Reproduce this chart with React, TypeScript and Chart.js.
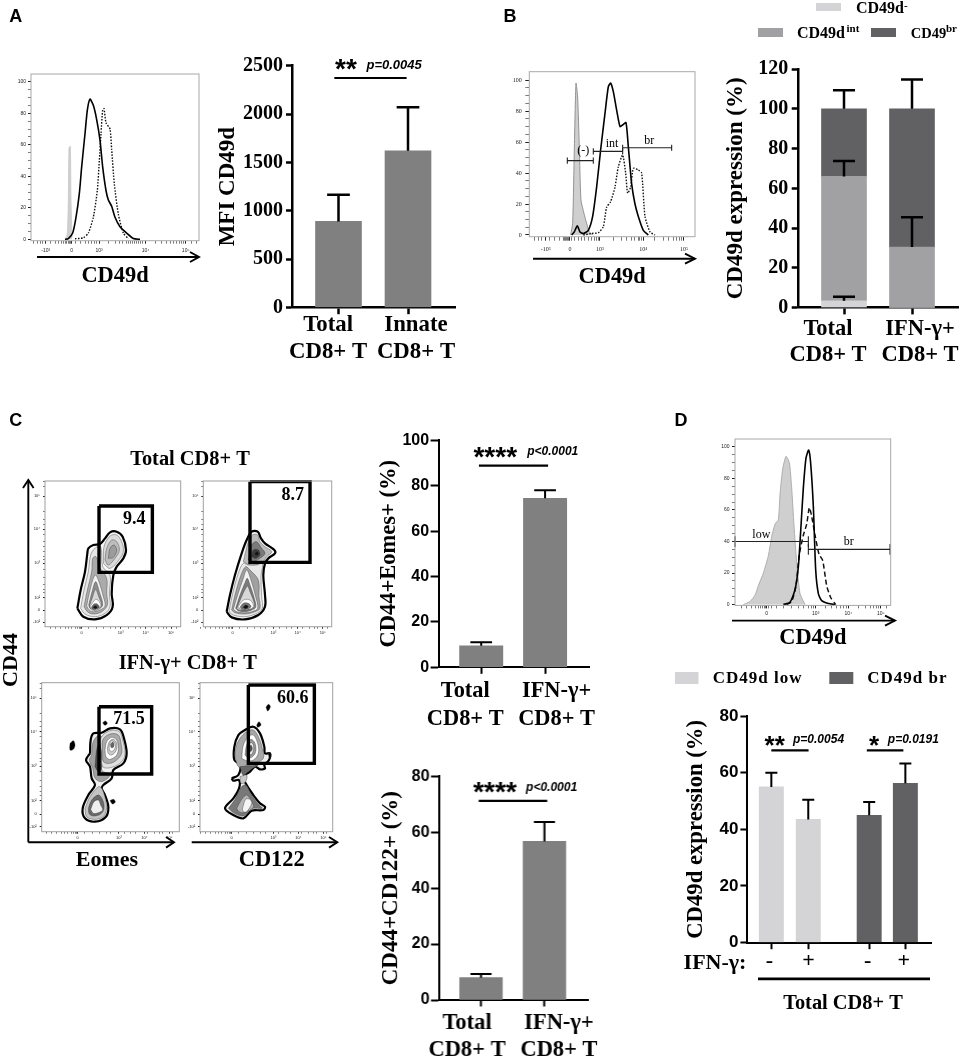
import React, { useEffect, useRef } from 'react';
import { Chart, registerables } from 'chart.js';

Chart.register(...registerables);

const SERIF = '"Liberation Serif"';
const SANS = '"Liberation Sans"';

// ---------- bar data ----------
const aCats = [['Total', 'CD8+ T'], ['Innate', 'CD8+ T']];
const aPos = [1, 2];
const aLabelPos = [0.85, 2.115];
const aVals = [890, 1620];
const aHigh = [1165, 2070];

const bCats = [['Total', 'CD8+ T'], ['IFN-γ+', 'CD8+ T']];
const bPos = [1, 2];
const bLabelPos = [0.765, 2.118];
const bNeg = [3.5, 0];
const bInt = [62.5, 30.5];
const bBr = [34, 69.5];
const bErrX = [1, 1, 1, 2, 2];
const bErrLow = [3.5, 66, 100, 30.5, 100];
const bErrHigh = [5.5, 73.7, 109.3, 45.5, 114.7];

const c1Cats = [['Total', 'CD8+ T'], ['IFN-γ+', 'CD8+ T']];
const c1Pos = [1, 2];
const c1LabelPos = [0.75, 2.18];
const c1Vals = [9.5, 74.5];
const c1High = [11, 78];

const c2Cats = [['Total', 'CD8+ T'], ['IFN-γ+', 'CD8+ T']];
const c2Pos = [1, 2];
const c2LabelPos = [0.78, 2.228];
const c2Vals = [8, 56.7];
const c2High = [9.3, 63.7];

const dCats = ['-', '+', '-', '+'];
const dPos = [1, 2, 3.65, 4.63];
const dLabelPos = [0.95, 2.01, 3.61, 4.59];
const dVals = [55, 43.5, 45, 56.3];
const dHigh = [60, 50.5, 49.7, 63.3];

// ---------- significance marks ----------
const sigA = [{ x1: 0.94, x2: 1.98, y: 2373, stars: '**', starX: 1.108, p: 'p=0.0045', pX: 1.8 }];
const sigC1 = [{ x1: 0.964, x2: 2.047, y: 88.9, stars: '****', starX: 1.22, p: 'p<0.0001', pX: 2.12 }];
const sigC2 = [{ x1: 0.964, x2: 2.044, y: 71.2, stars: '****', starX: 1.22, p: 'p<0.0001', pX: 2.113 }];
const sigD = [
  { x1: 1.0, x2: 2.008, y: 67.9, stars: '**', starX: 1.09, p: 'p=0.0054', pX: 2.278 },
  { x1: 3.586, x2: 4.576, y: 67.9, stars: '*', starX: 3.78, p: 'p=0.0191', pX: 4.846 },
];

// ---------- histograms (channel, % of max) ----------
const yMajor = [0, 20, 40, 60, 80, 100];
const yMinor = [5, 10, 15, 25, 30, 35, 45, 50, 55, 65, 70, 75, 85, 90, 95];

const haSolidX = [195, 205, 218, 228, 238, 245, 255, 262, 270, 280, 290, 300, 308, 318, 325, 335, 345, 360, 380, 400, 420];
const haSolidY = [0, 0.5, 4, 14, 29, 46, 67, 82, 89, 85, 76, 63, 46, 31, 25, 21, 14, 8, 4, 0.6, 0];
const haDotX = [225, 250, 265, 280, 292, 298, 303, 308, 312, 318, 330, 335, 343, 355, 370, 385];
const haDotY = [0.4, 1, 4, 14, 31, 50, 67, 82, 83, 74, 70, 57, 35, 16, 4, 0.4];
const haGrayX = [197, 202, 205, 207, 211, 213, 216];
const haGrayY = [0, 4, 25, 58, 59, 25, 1];
const haMajor = [137, 215, 297, 437, 557];
const haLabels = ['-10³', '0', '10³', '10⁴', '10⁵'];
const haMinor = [100, 112, 120, 127, 150, 165, 175, 185, 190, 195, 200, 205, 208, 211, 225, 240, 255, 265, 275, 283, 290, 325, 345, 358, 368, 378, 385, 392, 398, 404, 410, 416, 422, 428, 465, 485, 500, 510, 520, 530, 538, 545, 550, 575, 590];

const hbGrayX = [272, 278, 283, 288, 293, 298, 303, 312, 320, 328, 340];
const hbGrayY = [0, 7.5, 55, 98, 89, 57, 22.6, 14, 7.5, 2, 0];
const hbSolidX = [275, 283, 292, 300, 310, 325, 338, 350, 362, 375, 385, 392, 400, 410, 420, 428, 438, 445, 455, 465, 475, 490, 505];
const hbSolidY = [0, 2, 6, 2, 1, 3, 12, 31, 55, 78.5, 95.7, 98, 92.5, 80.6, 70, 71, 72.5, 57, 33, 20, 12, 3, 0];
const hbDotX = [310, 335, 355, 370, 380, 392, 405, 415, 428, 437, 443, 452, 460, 475, 485, 495, 510, 525];
const hbDotY = [0, 1, 1.5, 5.4, 18, 21.5, 31, 44, 51.6, 40, 27, 31, 43, 42, 40, 12, 2, 0];
const hbMajor = [197, 270, 360, 490, 612];
const hbLabels = ['-10³', '0', '10³', '10⁴', '10⁵'];
const hbMinor = [165, 175, 185, 210, 225, 240, 250, 255, 258, 261, 264, 267, 275, 285, 295, 305, 315, 325, 335, 345, 350, 355, 400, 425, 440, 455, 465, 475, 480, 485, 525, 550, 565, 580, 590, 600, 605];
const hbGateX1 = [262, 340, 428];
const hbGateX2 = [340, 428, 575];
const hbGateY = [48, 54, 56.3];

const hdGrayX = [220, 240, 255, 265, 280, 295, 305, 315, 325, 330, 338, 348, 358, 365, 372, 380, 390, 405];
const hdGrayY = [0, 2, 6, 12, 20, 31, 43, 51, 54, 70, 86, 94, 90, 74, 50, 27, 7, 0];
const hdSolidX = [340, 360, 375, 385, 393, 400, 408, 416, 422, 430, 437, 445, 455, 475, 495];
const hdSolidY = [0, 1.5, 9.5, 24, 50, 74, 93, 98, 89.5, 62, 22, 7, 2.5, 0.7, 0];
const hdDashX = [350, 365, 378, 388, 400, 410, 418, 425, 435, 447, 458, 470, 482, 497];
const hdDashY = [0, 2, 12, 32, 44, 51, 61.5, 56, 44, 32, 28, 12, 4.5, 0];
const hdMajor = [290, 437, 535, 632];
const hdLabels = ['0', '10³', '10⁴', '10⁵'];
const hdMinor = [215, 230, 245, 255, 265, 272, 278, 283, 287, 295, 305, 320, 340, 365, 385, 400, 415, 425, 431, 465, 485, 500, 510, 520, 528, 565, 585, 600, 610, 620, 626, 650];
const hdGateX1 = [195, 415];
const hdGateX2 = [415, 660];
const hdGateY = [40, 35];

// ---------- contour plots (channel, channel) ----------
type P = number[][];
const p1Shapes: P[] = [
  [[52,325],[62,270],[75,215],[82,160],[85,145],[100,135],[120,132],[135,115],[150,97],[170,95],[188,110],[198,150],[190,175],[170,200],[160,225],[155,280],[158,320],[140,345],[105,358],[70,350]],
  [[130,190],[132,140],[150,108],[170,105],[185,125],[190,155],[178,178],[150,205]],
  [[135,180],[140,145],[155,120],[170,125],[178,150],[165,175],[145,195]],
  [[145,175],[150,145],[162,135],[170,150],[160,172]],
  [[62,325],[72,270],[85,215],[92,165],[105,145],[122,140],[128,200],[150,225],[148,280],[150,320],[135,340],[105,350],[75,342]],
  [[72,320],[82,270],[95,215],[98,175],[108,170],[118,200],[140,235],[140,280],[142,315],[125,335],[100,342],[82,335]],
  [[80,318],[90,270],[105,225],[115,240],[130,290],[135,318],[120,330],[100,335],[88,330]],
  [[86,315],[96,275],[107,245],[118,275],[128,315],[115,328],[100,330],[90,325]],
  [[88,318],[98,290],[107,268],[116,290],[125,316],[113,325],[100,328],[92,325]],
  [[90,320],[100,305],[108,298],[118,305],[122,320],[110,330],[98,330]],
  [[94,322],[102,312],[112,312],[118,322],[108,328],[98,328]],
  [[99,322],[105,317],[112,321],[106,326]],
];
const p1Fills = ['#f6f6f6', '#dcdcdc', '#bdbdbd', '#9c9c9c', '#e8e8e8', '#ababab', '#f2f2f2', '#8c8c8c', '#d8d8d8', '#ffffff', '#666666', '#111111'];

const p2Shapes: P[] = [
  [[35,335],[45,285],[60,225],[80,160],[95,120],[110,95],[128,95],[138,115],[150,130],[178,150],[180,160],[160,175],[150,190],[145,225],[150,285],[150,320],[130,345],[90,358],[50,352]],
  [[85,185],[100,125],[112,105],[128,105],[135,125],[150,140],[170,155],[155,170],[140,190],[105,195]],
  [[100,180],[110,135],[125,125],[140,145],[150,160],[135,175],[115,185]],
  [[110,170],[115,150],[130,150],[135,165],[122,175]],
  [[120,158],[128,155],[130,163],[122,166]],
  [[42,335],[52,285],[70,220],[85,190],[100,195],[125,195],[142,190],[138,230],[140,290],[142,325],[125,340],[90,350],[55,345]],
  [[50,330],[60,285],[78,225],[92,200],[105,210],[130,240],[132,290],[135,325],[120,335],[90,342],[60,338]],
  [[55,328],[68,285],[85,235],[95,210],[108,240],[122,290],[128,325],[110,335],[85,338],[65,335]],
  [[62,325],[75,285],[90,248],[97,235],[105,255],[118,295],[122,322],[105,332],[85,335],[70,332]],
  [[65,325],[80,290],[92,265],[98,258],[105,275],[115,300],[118,320],[103,328],[85,330],[72,330]],
  [[68,322],[80,305],[92,298],[108,302],[115,320],[102,328],[85,330]],
  [[75,322],[85,310],[100,310],[108,320],[95,328],[82,328]],
  [[84,322],[92,315],[100,320],[92,326]],
];
const p2Fills = ['#f6f6f6', '#bbbbbb', '#7a7a7a', '#3c3c3c', '#111111', '#e8e8e8', '#a0a0a0', '#f2f2f2', '#7c7c7c', '#d8d8d8', '#ffffff', '#777777', '#111111'];

const p3Shapes: P[] = [
  [[90,130],[92,90],[100,70],[125,68],[150,55],[180,58],[192,85],[200,130],[190,160],[160,180],[155,205],[130,225],[125,235],[135,255],[145,290],[138,320],[105,335],[75,325],[68,295],[85,255],[105,225],[95,205],[90,170],[78,150]],
  [[95,135],[98,100],[110,80],[125,80],[125,130],[125,180],[150,195],[125,215],[105,205],[98,175],[88,150]],
  [[105,170],[112,110],[125,105],[125,175],[115,185]],
  [[125,130],[122,85],[150,62],[178,65],[188,90],[195,130],[185,155],[155,172],[128,170]],
  [[128,130],[128,90],[150,72],[175,75],[183,100],[185,130],[170,150],[150,160],[130,155]],
  [[135,120],[140,95],[155,82],[170,90],[175,115],[170,135],[150,148],[138,140]],
  [[142,115],[148,95],[160,88],[170,100],[168,122],[155,135],[145,130]],
  [[148,105],[155,92],[165,100],[165,115],[155,125],[148,118]],
  [[152,102],[158,96],[162,102],[160,112],[153,112]],
  [[75,295],[90,260],[115,230],[125,235],[135,262],[140,290],[132,318],[105,328],[80,320]],
  [[85,295],[95,270],[115,255],[128,270],[132,295],[122,312],[100,318],[88,312]],
  [[92,298],[102,275],[115,270],[122,285],[128,300],[115,308],[100,310]],
  [[30,100],[40,92],[45,105],[40,118],[30,120]],
  [[128,38],[136,33],[142,40],[135,46]],
  [[150,272],[160,268],[166,275],[158,282]],
];
const p3Fills = ['#f0f0f0', '#a0a0a0', '#4c4c4c', '#e0e0e0', '#aaaaaa', '#ffffff', '#cccccc', '#ffffff', '#666666', '#c4c4c4', '#6a6a6a', '#eeeeee', '#000000', '#000000', '#000000'];

const p4Shapes: P[] = [
  [[50,205],[70,195],[75,165],[58,150],[58,110],[70,75],[90,60],[115,50],[135,70],[148,110],[150,130],[165,130],[162,150],[148,165],[150,175],[135,178],[120,170],[105,185],[85,200],[95,225],[115,255],[135,280],[150,290],[145,300],[110,302],[85,325],[55,315],[30,295],[55,265],[72,235],[72,210],[55,212]],
  [[62,150],[62,115],[75,85],[95,65],[115,60],[130,80],[142,115],[145,145],[120,160],[85,170],[70,170]],
  [[80,145],[85,105],[100,80],[115,75],[128,100],[130,130],[115,150],[95,152]],
  [[90,135],[95,105],[108,88],[120,100],[122,125],[110,142],[98,142]],
  [[97,125],[100,105],[110,98],[116,110],[112,130],[102,135]],
  [[102,118],[107,105],[112,115],[107,125]],
  [[75,170],[125,165],[130,165],[105,180],[85,195]],
  [[75,200],[95,195],[92,215],[78,220]],
  [[40,295],[60,268],[78,232],[92,225],[110,255],[130,283],[142,295],[110,296],[85,318],[58,310]],
  [[65,295],[80,268],[95,255],[110,275],[115,292],[85,308],[72,305]],
  [[82,297],[92,268],[105,268],[110,280],[95,305],[85,305]],
  [[125,45],[132,35],[138,45],[128,52]],
  [[153,-8],[160,-17],[166,-10],[158,3]],
  [[160,128],[167,132],[163,145]],
];
const p4Fills = ['#f0f0f0', '#a8a8a8', '#ffffff', '#999999', '#eeeeee', '#555555', '#666666', '#c8c8c8', '#787878', '#b4b4b4', '#f5f5f5', '#000000', '#000000', '#000000'];

const p1Gate = [[117, 18], [277, 18], [277, 217], [117, 217], [117, 18]];
const p2Gate = [[105, -55], [285, -55], [285, 187], [105, 187], [105, -55]];
const p3Gate = [[117, -10], [275, -10], [275, 192], [117, 192], [117, -10]];
const p4Gate = [[100, -75], [298, -75], [298, 160], [100, 160], [100, -75]];

const contourYLabels = ['10⁵', '10⁴', '10³', '10²', '0', '-10²'];
const contourXLabels = ['0', '10³', '10⁴', '10⁵'];
const cMinorX = [-95, -80, -65, -50, -40, -30, -18, -13, -8, -3, 20, 45, 65, 85, 100, 140, 160, 175, 210, 230, 245, 255, 285];
const cMinorY = [-45, -30, 45, 70, 85, 115, 135, 150, 165, 180, 190, 220, 245, 265, 280, 290];

// ---------- plugins ----------
type Note = { t: string; x: number; y: number; size: number; family?: string; weight?: string; style?: string; align?: CanvasTextAlign; rotate?: number; spacing?: string; dy?: number };

function drawNote(chart: any, n: Note) {
  const c = chart.ctx;
  c.save();
  c.font = `${n.style || 'normal'} ${n.weight || 'bold'} ${n.size}px ${n.family || SERIF}`;
  c.textAlign = n.align || 'center';
  c.textBaseline = 'middle';
  c.fillStyle = '#000';
  if (n.spacing) (c as any).letterSpacing = n.spacing;
  c.translate(chart.scales.x.getPixelForValue(n.x), chart.scales.y.getPixelForValue(n.y) + (n.dy || 0));
  if (n.rotate) c.rotate(n.rotate);
  c.fillText(n.t, 0, 0);
  c.restore();
}

const notesPlugin = (notes: Note[]) => ({
  id: 'notes',
  afterDraw(chart: any) { notes.forEach((n) => drawNote(chart, n)); },
});

const errPlugin = (xs: number[], lows: number[], highs: number[], cap: number, width: number) => ({
  id: 'errs',
  afterDatasetsDraw(chart: any) {
    const { x, y } = chart.scales;
    const c = chart.ctx;
    c.save();
    c.strokeStyle = '#000';
    c.lineWidth = width;
    xs.forEach((v, i) => {
      const px = x.getPixelForValue(v);
      const lo = y.getPixelForValue(lows[i]);
      const hi = y.getPixelForValue(highs[i]);
      c.beginPath();
      c.moveTo(px, lo);
      c.lineTo(px, hi);
      c.moveTo(px - cap / 2, hi);
      c.lineTo(px + cap / 2, hi);
      c.stroke();
    });
    c.restore();
  },
});

const sigPlugin = (sigs: any[], starSize: number, starDy: number, pSize: number, pDy: number) => ({
  id: 'sig',
  afterDraw(chart: any) {
    const { x, y } = chart.scales;
    const c = chart.ctx;
    sigs.forEach((s) => {
      c.save();
      c.strokeStyle = '#000';
      c.lineWidth = 2.2;
      c.beginPath();
      c.moveTo(x.getPixelForValue(s.x1), y.getPixelForValue(s.y));
      c.lineTo(x.getPixelForValue(s.x2), y.getPixelForValue(s.y));
      c.stroke();
      c.restore();
      drawNote(chart, { t: s.stars, x: s.starX, y: s.y, size: starSize, family: SANS, dy: starDy });
      drawNote(chart, { t: s.p, x: s.pX, y: s.y, size: pSize, family: SANS, style: 'italic', dy: pDy });
    });
  },
});

const framePlugin = (color: string) => ({
  id: 'frame',
  afterDatasetsDraw(chart: any) {
    const a = chart.chartArea;
    const c = chart.ctx;
    c.save();
    c.strokeStyle = color;
    c.lineWidth = 1;
    c.strokeRect(a.left, a.top, a.right - a.left, a.bottom - a.top);
    c.restore();
  },
});

const swatchPlugin = (boxes: { x: number; y: number; w: number; h: number; color: string }[]) => ({
  id: 'swatches',
  afterDraw(chart: any) {
    const { x, y } = chart.scales;
    const c = chart.ctx;
    boxes.forEach((b) => {
      c.fillStyle = b.color;
      c.fillRect(x.getPixelForValue(b.x), y.getPixelForValue(b.y), b.w, b.h);
    });
  },
});

// ---------- config builders ----------
type Rect = [number, number, number, number];

function fixedPad(scale: any) {
  scale.paddingLeft = 0;
  scale.paddingRight = 0;
  scale.paddingTop = 0;
  scale.paddingBottom = 0;
}

function barConfig(o: any) {
  const [cl, ct, cr, cb] = o.rect as Rect;
  const [l, t, r, b] = o.plot as Rect;
  const spacing = o.spacing;
  const c1 = o.firstCenter;
  const xMin = 1 - (c1 - l) / spacing;
  const xMax = xMin + (r - l) / spacing;
  const lw = o.lw ?? 2.5;
  return {
    type: 'bar',
    data: { datasets: o.datasets },
    plugins: o.plugins,
    options: {
      responsive: false,
      animation: false,
      events: [],
      layout: { padding: { top: t - ct, right: cr - r, left: 0, bottom: 0 } },
      plugins: { legend: { display: false }, tooltip: { enabled: false }, title: { display: false } },
      scales: {
        x: {
          type: 'linear', axis: 'x', position: 'bottom', weight: 0, offset: false, min: xMin, max: xMax,
          stacked: !!o.stacked,
          grid: { display: true, offset: false, drawOnChartArea: false, drawTicks: true, tickLength: o.xTickLen, tickWidth: lw, tickColor: '#000' },
          border: { display: true, color: '#000', width: lw },
          ticks: { display: false, autoSkip: false },
          afterBuildTicks(s: any) { s.ticks = o.positions.map((v: number) => ({ value: v })); },
          afterFit(s: any) { s.height = 1; fixedPad(s); },
        },
        xl: {
          type: 'linear', axis: 'x', position: 'bottom', weight: 1, offset: false, min: xMin, max: xMax,
          grid: { display: false, drawTicks: false },
          border: { display: false },
          ticks: {
            autoSkip: false, maxRotation: 0, minRotation: 0, padding: o.labelPad, color: '#000',
            font: { family: SERIF, weight: 'bold', size: o.labelSize, lineHeight: o.labelLine },
            callback: (_v: number, i: number) => o.labels[i],
          },
          afterBuildTicks(s: any) { s.ticks = o.labelPos.map((v: number) => ({ value: v })); },
          afterFit(s: any) { s.height = cb - b - 1; fixedPad(s); },
        },
        y: {
          type: 'linear', position: 'left', min: 0, max: o.yMax, stacked: !!o.stacked,
          grid: { display: true, drawOnChartArea: false, drawTicks: true, tickLength: o.yTickLen, tickWidth: lw, tickColor: '#000' },
          border: { display: true, color: '#000', width: lw },
          ticks: { stepSize: o.yStep, padding: o.yPad, color: '#000', font: { family: o.tickFamily, weight: 'bold', size: o.tickSize }, callback: (v: number) => String(v) },
          title: { display: true, text: o.yTitle, color: '#000', padding: 0, font: { family: SERIF, weight: 'bold', size: o.titleSize, lineHeight: 1 } },
          afterFit(s: any) { s.width = l - cl; fixedPad(s); },
        },
      },
    },
  };
}

const pts = (xs: number[], ys: number[]) => xs.map((x, i) => ({ x, y: ys[i] }));

function lineSet(xs: number[], ys: number[], width: number, color: string, dash: number[] = [], fill = false) {
  return {
    data: pts(xs, ys), showLine: true, pointRadius: 0, borderColor: color, borderWidth: width,
    borderDash: dash, tension: 0.2, fill: fill ? 'origin' : false, backgroundColor: '#cfcfcf',
  };
}

function gateSets(x1: number[], x2: number[], ys: number[], h: number) {
  return x1.map((a, i) => ({
    data: [
      { x: a, y: ys[i] - h }, { x: a, y: ys[i] + h }, { x: a, y: ys[i] },
      { x: x2[i], y: ys[i] }, { x: x2[i], y: ys[i] + h }, { x: x2[i], y: ys[i] - h },
    ],
    showLine: true, pointRadius: 0, borderColor: '#222', borderWidth: 1.1, tension: 0, fill: false, clip: false,
  }));
}

function facsConfig(o: any) {
  const [cl, ct, cr, cb] = o.rect as Rect;
  const [l, t, r, b] = o.plot as Rect;
  return {
    type: 'scatter',
    data: { datasets: o.datasets },
    plugins: [framePlugin(o.frame || '#a8a8a8'), notesPlugin(o.notes || [])],
    options: {
      responsive: false,
      animation: false,
      events: [],
      layout: { padding: { top: t - ct, right: cr - r, left: 0, bottom: 0 } },
      plugins: { legend: { display: false }, tooltip: { enabled: false } },
      scales: {
        x: {
          type: 'linear', position: 'bottom', min: o.xMin, max: o.xMax,
          grid: {
            display: true, drawOnChartArea: false, tickLength: o.tickLen, tickColor: '#222',
            tickWidth: (c: any) => (o.xMajor.includes(c.tick && c.tick.value) ? 1 : 0.6),
          },
          border: { display: false },
          ticks: {
            autoSkip: false, maxRotation: 0, minRotation: 0, padding: o.xPad, color: '#222',
            font: { family: o.tickFamily || SANS, size: o.tickSize, lineHeight: 1 },
            callback: (v: number) => { const i = o.xMajor.indexOf(v); return i >= 0 ? o.xLabels[i] : ''; },
          },
          afterBuildTicks(s: any) { s.ticks = [...o.xMajor, ...o.xMinor].sort((p, q) => p - q).map((v) => ({ value: v })); },
          title: o.xTitle
            ? { display: true, text: o.xTitle, color: '#000', padding: 0, font: { family: SERIF, weight: 'bold', size: 22.4, lineHeight: 1 } }
            : { display: false },
          afterFit(s: any) { s.height = cb - b; fixedPad(s); },
        },
        y: {
          type: 'linear', position: 'left', min: o.yMin, max: o.yMax, reverse: !!o.reverseY,
          grid: {
            display: true, drawOnChartArea: false, tickLength: o.tickLen, tickColor: '#222',
            tickWidth: (c: any) => (o.yMajorTicks.includes(c.tick && c.tick.value) ? 1 : 0.6),
          },
          border: { display: false },
          ticks: {
            autoSkip: false, padding: o.yPad, color: '#222',
            font: { family: o.tickFamily || SANS, size: o.tickSize, lineHeight: 1 },
            callback: (v: number) => { const i = o.yMajorTicks.indexOf(v); return i >= 0 ? o.yLabels[i] : ''; },
          },
          afterBuildTicks(s: any) { s.ticks = [...o.yMajorTicks, ...o.yMinorTicks].sort((p, q) => p - q).map((v) => ({ value: v })); },
          afterFit(s: any) { s.width = l - cl; fixedPad(s); },
        },
      },
    },
  };
}

function contourConfig(o: any) {
  const shapeSets = o.shapes.map((p: P, i: number) => ({
    data: [...p, p[0]].map(([x, y]) => ({ x, y })),
    showLine: true, pointRadius: 0, borderColor: i === 0 ? '#000' : '#333', borderWidth: i === 0 ? 2.2 : 0.4,
    backgroundColor: o.fills[i], fill: 'shape', tension: 0.35,
  }));
  const gate = {
    data: o.gate.map(([x, y]: number[]) => ({ x, y })),
    showLine: true, pointRadius: 0, borderColor: '#000', borderWidth: 3.4, tension: 0, fill: false, clip: false,
    borderJoinStyle: 'miter',
  };
  const xMajor = o.xMajor;
  const yMajor4 = o.yMajor;
  return facsConfig({
    rect: o.rect, plot: o.plot, xMin: o.xMin, xMax: o.xMax, yMin: o.yMin, yMax: o.yMax, reverseY: true,
    datasets: [gate, ...shapeSets.reverse()],
    xMajor, xLabels: contourXLabels, xMinor: cMinorX.map((v) => v + xMajor[0]),
    yMajorTicks: yMajor4, yLabels: contourYLabels, yMinorTicks: cMinorY.map((v) => v + yMajor4[0]),
    tickLen: 2, tickSize: 4, xPad: 2, yPad: 3, frame: '#a0a0a0',
    notes: [o.note],
  });
}

// ---------- figure level marks ----------
const COLOR_BAR = '#808080';
const COLOR_LIGHT = '#d4d4d6';
const COLOR_MID = '#a1a1a4';
const COLOR_DARK = '#616163';

const arrowLines: number[][][] = [
  [[37, 257], [199, 257]], [[190, 252], [199, 257], [190, 262]],
  [[533, 258.7], [695, 258.7]], [[685, 253.7], [695, 258.7], [685, 263.7]],
  [[732, 620.6], [895, 620.6]], [[885, 615.6], [895, 620.6], [885, 625.6]],
  [[28.3, 842.3], [28.3, 480]], [[23, 488], [28.3, 480], [33.6, 488]],
  [[28.3, 842.3], [174, 842.3]], [[166, 837], [174, 842.3], [166, 847.6]],
  [[191.7, 842.3], [337.3, 842.3]], [[329, 837], [337.3, 842.3], [329, 847.6]],
  [[758, 978.9], [930, 978.9]],
];

const figureNotes: Note[] = [
  { t: 'A', x: 15.7, y: 17.3, size: 18, family: SANS },
  { t: 'B', x: 510, y: 17.3, size: 18, family: SANS },
  { t: 'C', x: 15.7, y: 421, size: 18, family: SANS },
  { t: 'D', x: 681, y: 421, size: 18, family: SANS },
  { t: 'CD49d', x: 856, y: 9, size: 16, align: 'left' },
  { t: '-', x: 904, y: 6, size: 11, align: 'left' },
  { t: 'CD49d', x: 797, y: 34, size: 16, align: 'left' },
  { t: 'int', x: 846.5, y: 29, size: 11, align: 'left' },
  { t: 'CD49', x: 910.7, y: 34, size: 14.5, align: 'left' },
  { t: 'br', x: 946, y: 29, size: 11, align: 'left' },
  { t: 'Total CD8+ T', x: 190, y: 460, size: 20.4 },
  { t: 'IFN-γ+ CD8+ T', x: 187.7, y: 663.3, size: 20.4 },
  { t: 'Eomes', x: 107, y: 860.7, size: 22 },
  { t: 'CD122', x: 271.7, y: 860.7, size: 22.4 },
  { t: 'CD44', x: 11, y: 660, size: 22, rotate: -Math.PI / 2 },
  { t: 'CD49d low', x: 712.7, y: 678.7, size: 17, align: 'left', spacing: '1px' },
  { t: 'CD49d br', x: 867.3, y: 678.7, size: 17, align: 'left', spacing: '1px' },
  { t: 'IFN-γ:', x: 715, y: 963, size: 22 },
  { t: 'Total CD8+ T', x: 843, y: 1003.7, size: 20.4 },
];

const figureSwatches = [
  { x: 816, y: 3, w: 25, h: 8, color: COLOR_LIGHT },
  { x: 758, y: 28, w: 25, h: 9, color: COLOR_MID },
  { x: 871, y: 28, w: 25, h: 9, color: COLOR_DARK },
  { x: 675, y: 672, w: 23.5, h: 12, color: COLOR_LIGHT },
  { x: 829.3, y: 672, w: 24, h: 12, color: COLOR_DARK },
];

const solidBar = (xs: number[], ys: number[], color: any, thick: number) => ({
  data: pts(xs, ys), backgroundColor: color, barThickness: thick, borderWidth: 0,
});

const serifTick = { tickFamily: SERIF, tickSize: 20 };
const sansTick = { tickFamily: SANS, tickSize: 16 };

const panels: { rect: Rect; make: () => any }[] = [
  {
    rect: [0, 0, 965, 1061],
    make: () => ({
      type: 'scatter',
      data: {
        datasets: arrowLines.map((l, i) => ({
          data: l.map(([x, y]) => ({ x, y })), showLine: true, pointRadius: 0, borderColor: '#000',
          borderWidth: i === arrowLines.length - 1 ? 2.6 : 1.9, tension: 0, fill: false,
        })),
      },
      plugins: [notesPlugin(figureNotes), swatchPlugin(figureSwatches)],
      options: {
        responsive: false, animation: false, events: [],
        plugins: { legend: { display: false }, tooltip: { enabled: false } },
        scales: {
          x: { type: 'linear', min: 0, max: 965, display: false },
          y: { type: 'linear', min: 0, max: 1061, reverse: true, display: false },
        },
      },
    }),
  },
  // panel A bars
  {
    rect: [217, 45, 480, 385],
    make: () => barConfig({
      rect: [217, 45, 480, 385], plot: [292, 65.7, 455, 307.5], spacing: 69.5, firstCenter: 338.5,
      positions: aPos, labelPos: aLabelPos, labels: aCats, datasets: [solidBar(aPos, aVals, COLOR_BAR, 46)],
      yMax: 2500, yStep: 500, yTitle: 'MFI CD49d', titleSize: 23, ...serifTick, yTickLen: 6, yPad: 3, xTickLen: 6.7,
      labelSize: 22.8, labelLine: 27.7 / 22.8, labelPad: 2.3,
      plugins: [errPlugin(aPos, aVals, aHigh, 22.7, 2.5), sigPlugin(sigA, 28, -8, 13, -12.3)],
    }),
  },
  // panel B bars
  {
    rect: [725, 50, 965, 385],
    make: () => barConfig({
      rect: [725, 50, 965, 385], plot: [798, 69, 958, 307.7], spacing: 68, firstCenter: 844, stacked: true,
      positions: bPos, labelPos: bLabelPos, labels: bCats,
      datasets: [solidBar(bPos, bNeg, COLOR_LIGHT, 45), solidBar(bPos, bInt, COLOR_MID, 45), solidBar(bPos, bBr, COLOR_DARK, 45)],
      yMax: 120, yStep: 20, yTitle: 'CD49d expression (%)', titleSize: 23, ...serifTick, yTickLen: 6.3, yPad: 3.4, xTickLen: 6.7,
      labelSize: 22.5, labelLine: 26.7 / 22.5, labelPad: 6.7,
      plugins: [errPlugin(bErrX, bErrLow, bErrHigh, 22, 2.5)],
    }),
  },
  // panel C bars
  {
    rect: [377.7, 425, 620, 735],
    make: () => barConfig({
      rect: [377.7, 425, 620, 735], plot: [438.3, 440.4, 589.3, 667.3], spacing: 64, firstCenter: 481,
      positions: c1Pos, labelPos: c1LabelPos, labels: c1Cats, datasets: [solidBar(c1Pos, c1Vals, COLOR_BAR, 43.3)],
      yMax: 100, yStep: 20, yTitle: 'CD44+Eomes+ (%)', titleSize: 22.5, ...sansTick, yTickLen: 8, yPad: 1.5, xTickLen: 6.5, lw: 2,
      labelSize: 22.4, labelLine: 27.4 / 22.4, labelPad: 9.7,
      plugins: [errPlugin(c1Pos, c1Vals, c1High, 21.7, 2), sigPlugin(sigC1, 28, -7, 12, -14)],
    }),
  },
  {
    rect: [380.2, 760, 620, 1061],
    make: () => barConfig({
      rect: [380.2, 760, 620, 1061], plot: [439, 776.3, 588.3, 1000], spacing: 63.5, firstCenter: 481,
      positions: c2Pos, labelPos: c2LabelPos, labels: c2Cats, datasets: [solidBar(c2Pos, c2Vals, COLOR_BAR, 42.5)],
      yMax: 80, yStep: 20, yTitle: 'CD44+CD122+ (%)', titleSize: 23, ...sansTick, yTickLen: 8, yPad: 1.5, xTickLen: 6.5, lw: 2,
      labelSize: 22.4, labelLine: 27.4 / 22.4, labelPad: 8.5,
      plugins: [errPlugin(c2Pos, c2Vals, c2High, 21, 2), sigPlugin(sigC2, 28, -8, 12, -13.5)],
    }),
  },
  // panel D bars
  {
    rect: [684.6, 700, 950, 985],
    make: () => barConfig({
      rect: [684.6, 700, 950, 985], plot: [746.7, 716.2, 931.7, 942.5], spacing: 37, firstCenter: 771,
      positions: dPos, labelPos: dLabelPos, labels: dCats,
      datasets: [solidBar(dPos, dVals, [COLOR_LIGHT, COLOR_LIGHT, COLOR_DARK, COLOR_DARK], 24.3)],
      yMax: 80, yStep: 20, yTitle: 'CD49d expression (%)', titleSize: 22.7, tickFamily: SANS, tickSize: 17, yTickLen: 6.7, yPad: 2, xTickLen: 6.7, lw: 2,
      labelSize: 22, labelLine: 1, labelPad: 7.2,
      plugins: [errPlugin(dPos, dVals, dHigh, 12, 2), sigPlugin(sigD, 26, -4, 12, -10.7)],
    }),
  },
  // histograms
  {
    rect: [14, 60, 215, 287],
    make: () => facsConfig({
      rect: [14, 60, 215, 287], plot: [31, 74, 199, 240.7], xMin: 93, xMax: 597, yMin: -0.85, yMax: 104.9,
      xMajor: haMajor, xLabels: haLabels, xMinor: haMinor, yMajorTicks: yMajor, yLabels: yMajor, yMinorTicks: yMinor,
      tickLen: 3, tickSize: 5, xPad: 4, yPad: 2, xTitle: 'CD49d',
      datasets: [
        lineSet(haSolidX, haSolidY, 1.6, '#000'),
        lineSet(haDotX, haDotY, 1.4, '#111', [1.5, 1.5]),
        lineSet(haGrayX, haGrayY, 0.8, '#c8c8c8', [], true),
      ],
    }),
  },
  {
    rect: [505, 60, 712, 288],
    make: () => facsConfig({
      rect: [505, 60, 712, 288], plot: [529.3, 71.7, 695, 236.7], xMin: 148, xMax: 645, yMin: -1.1, yMax: 105.4,
      xMajor: hbMajor, xLabels: hbLabels, xMinor: hbMinor, yMajorTicks: yMajor, yLabels: yMajor, yMinorTicks: yMinor,
      tickLen: 4, tickSize: 6, xPad: 5.6, yPad: 3.5, xTitle: 'CD49d', tickFamily: SERIF,
      notes: [
        { t: '(-)', x: 310, y: 54.4, size: 12, weight: 'normal' },
        { t: 'int', x: 396, y: 59, size: 12, weight: 'normal' },
        { t: 'br', x: 508, y: 60.9, size: 12, weight: 'normal' },
      ],
      datasets: [
        ...gateSets(hbGateX1, hbGateX2, hbGateY, 2),
        lineSet(hbSolidX, hbSolidY, 1.6, '#000'),
        lineSet(hbDotX, hbDotY, 1.4, '#111', [1.5, 1.5]),
        lineSet(hbGrayX, hbGrayY, 0.9, '#8a8a8a', [], true),
      ],
    }),
  },
  {
    rect: [715, 428, 905, 649.2],
    make: () => facsConfig({
      rect: [715, 428, 905, 649.2], plot: [735, 439, 890.7, 605.6], xMin: 195, xMax: 662, yMin: -0.5, yMax: 105,
      xMajor: hdMajor, xLabels: hdLabels, xMinor: hdMinor, yMajorTicks: yMajor, yLabels: yMajor, yMinorTicks: yMinor,
      tickLen: 3, tickSize: 5, xPad: 2.4, yPad: 2.5, xTitle: 'CD49d',
      notes: [
        { t: 'low', x: 274, y: 44.5, size: 12, weight: 'normal' },
        { t: 'br', x: 536, y: 40, size: 12, weight: 'normal' },
      ],
      datasets: [
        ...gateSets(hdGateX1, hdGateX2, hdGateY, 3.4),
        lineSet(hdSolidX, hdSolidY, 1.6, '#000'),
        lineSet(hdDashX, hdDashY, 1.5, '#111', [5, 3]),
        lineSet(hdGrayX, hdGrayY, 0.9, '#a8a8a8', [], true),
      ],
    }),
  },
  // contour plots
  {
    rect: [30, 470, 190, 645],
    make: () => contourConfig({
      rect: [30, 470, 190, 645], plot: [45, 481, 180.7, 626.7], xMin: -45, xMax: 362, yMin: -57, yMax: 380,
      xMajor: [65, 182, 257, 333], yMajor: [-12, 88, 190, 293, 330, 367],
      shapes: p1Shapes, fills: p1Fills, gate: p1Gate,
      note: { t: '9.4', x: 223, y: 57, size: 18 },
    }),
  },
  {
    rect: [188, 470, 340, 645],
    make: () => contourConfig({
      rect: [188, 470, 340, 645], plot: [203.3, 481, 331.7, 626.7], xMin: -35, xMax: 350, yMin: -57, yMax: 380,
      xMajor: [53, 175, 248, 323], yMajor: [-12, 88, 190, 293, 330, 367],
      shapes: p2Shapes, fills: p2Fills, gate: p2Gate,
      note: { t: '8.7', x: 233, y: -15, size: 18 },
    }),
  },
  {
    rect: [27, 672, 190, 850],
    make: () => contourConfig({
      rect: [27, 672, 190, 850], plot: [41.7, 682.7, 179.3, 831.7], xMin: -55, xMax: 358, yMin: -82, yMax: 365,
      xMajor: [53, 177, 253, 328], yMajor: [-35, 65, 168, 272, 313, 350],
      shapes: p3Shapes, fills: p3Fills, gate: p3Gate,
      note: { t: '71.5', x: 207, y: 28, size: 18 },
    }),
  },
  {
    rect: [185, 672, 340, 850],
    make: () => contourConfig({
      rect: [185, 672, 340, 850], plot: [200, 682.7, 332.7, 831.7], xMin: -45, xMax: 353, yMin: -82, yMax: 365,
      xMajor: [50, 175, 250, 325], yMajor: [-35, 65, 168, 272, 313, 350],
      shapes: p4Shapes, fills: p4Fills, gate: p4Gate,
      note: { t: '60.6', x: 233, y: -35, size: 18 },
    }),
  },
];

function Panel({ rect, make }: { rect: Rect; make: () => any }) {
  const ref = useRef<HTMLCanvasElement | null>(null);
  useEffect(() => {
    const chart = new Chart(ref.current as HTMLCanvasElement, make());
    return () => chart.destroy();
  }, []);
  const [l, t, r, b] = rect;
  return (
    <canvas
      ref={ref}
      width={r - l}
      height={b - t}
      style={{ position: 'absolute', left: l, top: t, width: r - l, height: b - t }}
    />
  );
}

export default function App() {
  return (
    <div style={{ position: 'absolute', left: 0, top: 0, width: 965, height: 1061, background: '#fff', overflow: 'hidden', filter: 'blur(0.45px)' }}>
      {panels.map((p, i) => (
        <Panel key={i} rect={p.rect} make={p.make} />
      ))}
    </div>
  );
}
